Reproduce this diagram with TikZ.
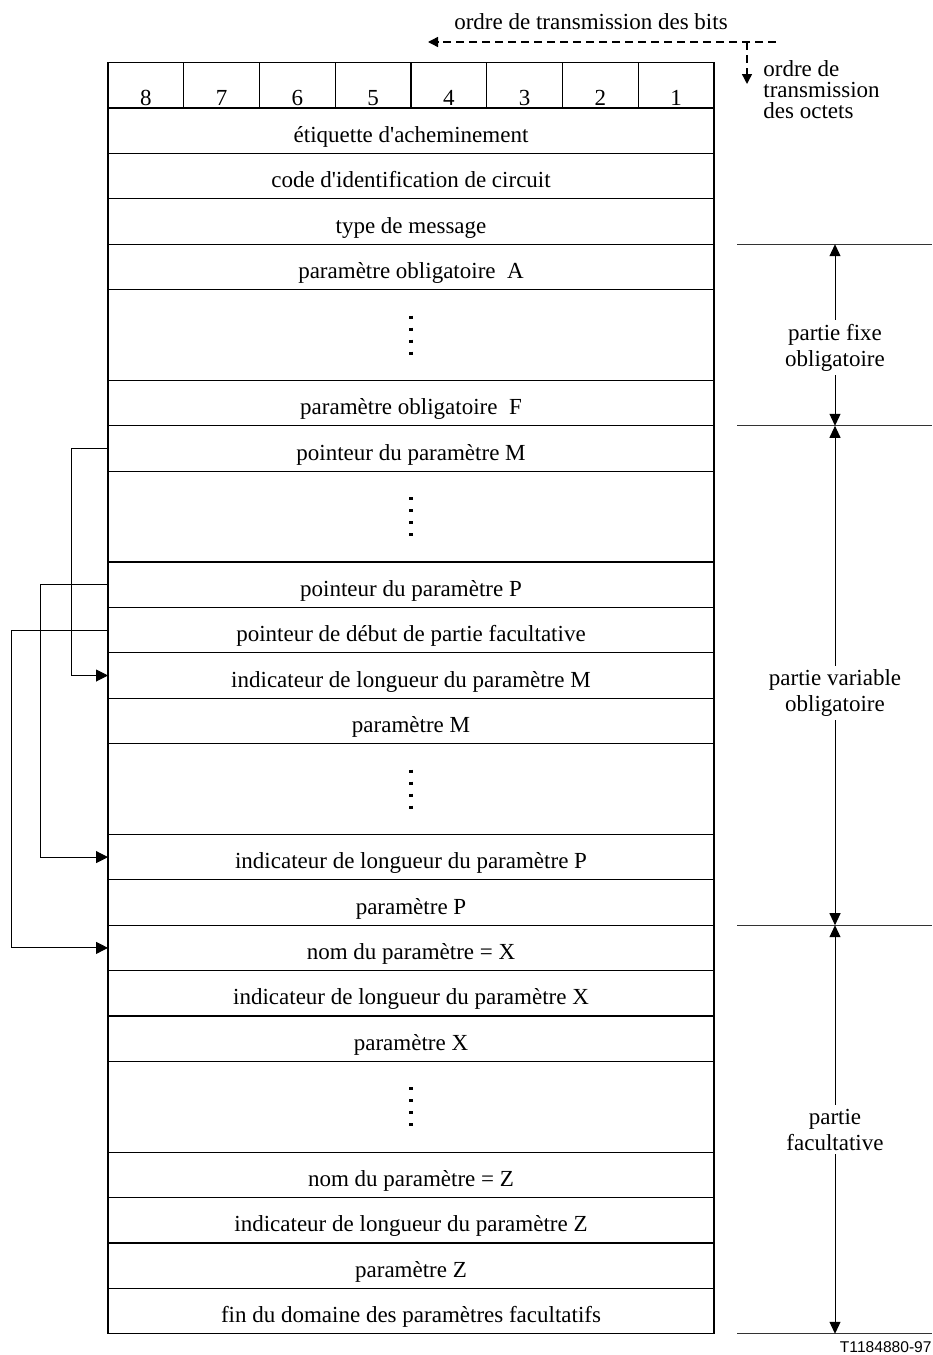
\documentclass[tikz,border=0pt]{standalone}
\usepackage{fontspec}
\setmainfont{Liberation Serif}
\newfontfamily\tagfont{Liberation Sans}
\usetikzlibrary{arrows.meta,positioning,calc}
\tikzset{
    % Octet field - one row of the message
    field/.style={
        rectangle,
        draw=black,
        line width=0.65pt,
        outer sep=0pt,
        inner sep=0pt,
        minimum width=303pt,
        minimum height=22.7pt,
        text height=14pt,
        text depth=2.5pt,
        text centered,
        font=\fontsize{11.5}{13}\selectfont
    },
    % Omitted octets - row with vertical dots
    gapfield/.style={
        field,
        minimum height=45.4pt,
        path picture={
            \draw[line width=2pt, dash pattern=on 1.5pt off 4.5pt]
                ([yshift=9.75pt]path picture bounding box.center) --
                ([yshift=-9.75pt]path picture bounding box.center);
        }
    },
    % Bit number cell
    bitcell/.style={
        rectangle,
        draw=black,
        line width=0.65pt,
        outer sep=0pt,
        inner xsep=0pt,
        inner ysep=1.5pt,
        minimum width=37.875pt,
        text height=19.7pt,
        text depth=0pt,
        font=\fontsize{11.5}{13}\selectfont
    },
    % Side labels
    sidelabel/.style={
        align=center,
        fill=white,
        inner sep=2pt,
        font=\fontsize{11.5}{13}\selectfont
    },
    toplabel/.style={
        inner sep=0pt,
        font=\fontsize{11.5}{10.5}\selectfont
    },
    % Pointer arrow
    ptrarrow/.style={
        -{Triangle[length=6pt,width=6pt]},
        line width=0.5pt,
        draw=black
    },
    % Dimension arrow for the parts
    dimarrow/.style={
        {Triangle[length=6pt,width=5.5pt]}-{Triangle[length=6pt,width=5.5pt]},
        line width=0.5pt,
        draw=black
    },
    % Dashed arrow for transmission order
    orderarrow/.style={
        -{Triangle[length=5pt,width=5pt]},
        line width=0.7pt,
        dash pattern=on 4pt off 2.5pt,
        draw=black
    },
    % Boundary line on the right
    refline/.style={
        line width=0.45pt,
        draw=black!80
    }
}

\begin{document}
\begin{tikzpicture}[x=0.5pt, y=-0.5pt]

    \useasboundingbox (0,0) rectangle (932,1355);

    % ========== MESSAGE FIELDS ==========
    \node[field, anchor=north west] (etiq) at (108,108) {étiquette d\textquotesingle acheminement};
    \node[field, below=0pt of etiq] (cic) {code d\textquotesingle identification de circuit};
    \node[field, below=0pt of cic] (msgtype) {type de message};
    \node[field, below=0pt of msgtype] (oblA) {paramètre obligatoire\ \ A};
    \node[gapfield, below=0pt of oblA] (gapA) {};
    \node[field, below=0pt of gapA] (oblF) {paramètre obligatoire\ \ F};
    \node[field, below=0pt of oblF] (ptrM) {pointeur du paramètre M};
    \node[gapfield, below=0pt of ptrM] (gapB) {};
    \node[field, below=0pt of gapB] (ptrP) {pointeur du paramètre P};
    \node[field, below=0pt of ptrP] (ptrOpt) {pointeur de début de partie facultative};
    \node[field, below=0pt of ptrOpt] (lenM) {indicateur de longueur du paramètre M};
    \node[field, below=0pt of lenM] (parM) {paramètre M};
    \node[gapfield, below=0pt of parM] (gapC) {};
    \node[field, below=0pt of gapC] (lenP) {indicateur de longueur du paramètre P};
    \node[field, below=0pt of lenP] (parP) {paramètre P};
    \node[field, below=0pt of parP] (nameX) {nom du paramètre = X};
    \node[field, below=0pt of nameX] (lenX) {indicateur de longueur du paramètre X};
    \node[field, below=0pt of lenX] (parX) {paramètre X};
    \node[gapfield, below=0pt of parX] (gapD) {};
    \node[field, below=0pt of gapD] (nameZ) {nom du paramètre = Z};
    \node[field, below=0pt of nameZ] (lenZ) {indicateur de longueur du paramètre Z};
    \node[field, below=0pt of lenZ] (parZ) {paramètre Z};
    \node[field, below=0pt of parZ] (optEnd) {fin du domaine des paramètres facultatifs};

    % ========== BIT NUMBERS ==========
    \node[bitcell, above right=0pt and 0pt of etiq.north west] (bit8) {8};
    \node[bitcell, right=0pt of bit8] (bit7) {7};
    \node[bitcell, right=0pt of bit7] (bit6) {6};
    \node[bitcell, right=0pt of bit6] (bit5) {5};
    \node[bitcell, right=0pt of bit5] (bit4) {4};
    \node[bitcell, right=0pt of bit4] (bit3) {3};
    \node[bitcell, right=0pt of bit3] (bit2) {2};
    \node[bitcell, right=0pt of bit2] (bit1) {1};

    % ========== TRANSMISSION ORDER ==========
    \node[toplabel, anchor=base] (bitslbl) at (591,29) {ordre de transmission des bits};
    \node[toplabel, anchor=west, align=left] (octlbl) at (763,90) {ordre de\\transmission\\des octets};
    \coordinate (bitsfrom) at (776,42);
    \coordinate (bitsto) at (428,42);
    \coordinate (octfrom) at (747,42);
    \coordinate (octto) at (747,84);
    \draw[orderarrow] (bitsfrom) -- (bitsto);
    \draw[orderarrow] (octfrom) -- (octto);

    % ========== POINTERS ==========
    \draw[ptrarrow] (ptrM.west) -- ++(-37,0) |- (lenM.west);
    \draw[ptrarrow] (ptrP.west) -- ++(-68,0) |- (lenP.west);
    \draw[ptrarrow] (ptrOpt.west) -- ++(-97,0) |- (nameX.west);

    % ========== PARTS OF THE MESSAGE ==========
    \draw[refline] ($(msgtype.south east)+(23,0)$) -- ++(195,0);
    \draw[refline] ($(oblF.south east)+(23,0)$) -- ++(195,0);
    \draw[refline] ($(parP.south east)+(23,0)$) -- ++(195,0);
    \draw[refline] ($(optEnd.south east)+(23,0)$) -- ++(195,0);

    \coordinate (fixtop) at ($(msgtype.south east)+(121,0)$);
    \coordinate (fixbot) at ($(oblF.south east)+(121,0)$);
    \coordinate (varbot) at ($(parP.south east)+(121,0)$);
    \coordinate (optbot) at ($(optEnd.south east)+(121,0)$);

    \draw[dimarrow] (fixtop) -- node[sidelabel, pos=0.57] (fixlbl) {partie fixe\\obligatoire} (fixbot);
    \draw[dimarrow] (fixbot) -- node[sidelabel, pos=0.535] (varlbl) {partie variable\\obligatoire} (varbot);
    \draw[dimarrow] (varbot) -- node[sidelabel, pos=0.5] (optlbl) {partie\\facultative} (optbot);

    % figure tag
    \node[anchor=east, inner sep=0pt, font=\tagfont\fontsize{7.8}{9}\selectfont] (figtag) at (932,1347) {T1184880-97};

\end{tikzpicture}
\end{document}
